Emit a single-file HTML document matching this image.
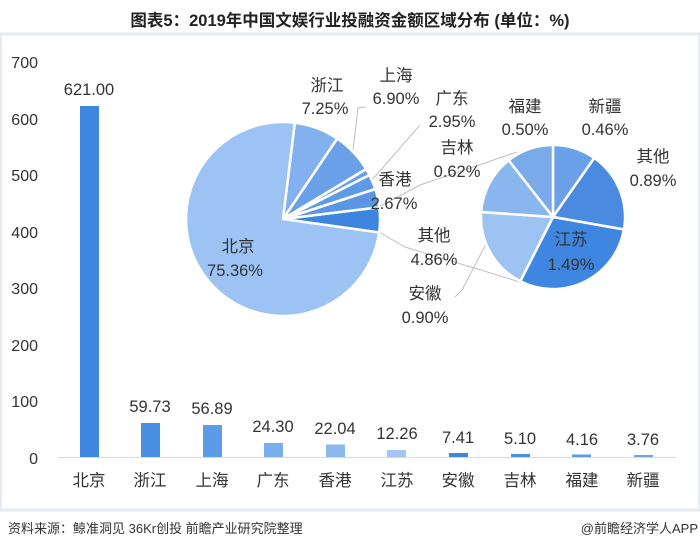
<!DOCTYPE html>
<html><head><meta charset="utf-8"><style>
body{margin:0;background:#fff;}
svg{display:block;font-family:"Liberation Sans","Noto Sans CJK SC",sans-serif;}
</style></head><body>
<svg width="700" height="549" viewBox="0 0 700 549">
<rect x="0.5" y="34" width="699" height="476" fill="#fff" stroke="#e6ebf2" stroke-width="3"/>
<text x="350" y="26" text-anchor="middle" font-size="16.5" font-weight="bold" fill="#222">图表5：2019年中国文娱行业投融资金额区域分布 (单位：%)</text>
<g font-size="16" fill="#333" text-anchor="end">
<text x="38" y="68">700</text><text x="38" y="125">600</text><text x="38" y="181">500</text><text x="38" y="238">400</text><text x="38" y="294">300</text><text x="38" y="351">200</text><text x="38" y="407">100</text><text x="38" y="464">0</text>
</g>
<line x1="58" y1="457.5" x2="676" y2="457.5" stroke="#d9d9d9"/>
<g>
<rect x="80" y="106" width="19" height="351" fill="#3f86e0"/>
<rect x="141" y="423" width="19" height="34" fill="#4a90e2"/>
<rect x="203" y="425" width="19" height="32" fill="#5d9be8"/>
<rect x="264" y="443" width="19" height="14" fill="#78adee"/>
<rect x="326" y="444.5" width="19" height="12.5" fill="#8cb8f0"/>
<rect x="387" y="450" width="19" height="7" fill="#a3c6f4"/>
<rect x="449" y="453" width="19" height="4" fill="#3f86e0"/>
<rect x="511" y="454" width="19" height="3" fill="#4a8fe2"/>
<rect x="572" y="454.5" width="19" height="2.5" fill="#5a9ae6"/>
<rect x="634" y="455" width="19" height="2" fill="#6aa3ea"/>
</g>
<g font-size="16.5" fill="#333" text-anchor="middle">
<text x="89" y="95">621.00</text>
<text x="150" y="412">59.73</text><text x="212" y="414">56.89</text><text x="273" y="432">24.30</text><text x="335" y="434">22.04</text><text x="397" y="439">12.26</text><text x="458" y="443">7.41</text><text x="520" y="444">5.10</text><text x="582" y="445">4.16</text><text x="643" y="445">3.76</text>
</g>
<g font-size="16.5" fill="#333" text-anchor="middle">
<text x="89" y="486">北京</text><text x="150" y="486">浙江</text><text x="212" y="486">上海</text><text x="273" y="486">广东</text><text x="335" y="486">香港</text><text x="397" y="486">江苏</text><text x="458" y="486">安徽</text><text x="520" y="486">吉林</text><text x="582" y="486">福建</text><text x="643" y="486">新疆</text>
</g>
<g stroke="#bfbfbf" fill="none" stroke-width="1">
<polyline points="379,232 405,247 520,282"/>
<polyline points="379,207 420,185 517,152"/>
<polyline points="353,150 358,108 366,107"/>
<polyline points="372,180 420,125"/>
<polyline points="455,297 462,290 486,244"/>
</g>
<g stroke="#fff" stroke-width="2.5" stroke-linejoin="round">
<path d="M283,219 L379.1,232.5 A97,97 0 0 0 379.3,207.2 Z" fill="#3d85de"/>
<path d="M283,219 L379.3,207.2 A97,97 0 0 0 375.3,189 Z" fill="#5a96e4"/>
<path d="M283,219 L375.3,189 A97,97 0 0 0 369.4,175 Z" fill="#5f9ae5"/>
<path d="M283,219 L369.4,175 A97,97 0 0 0 366.1,169 Z" fill="#6aa0e8"/>
<path d="M283,219 L366.1,169 A97,97 0 0 0 337.2,138.6 Z" fill="#6aa0e8"/>
<path d="M283,219 L337.2,138.6 A97,97 0 0 0 294.8,122.7 Z" fill="#83b0ee"/>
<path d="M283,219 L294.8,122.7 A97,97 0 1 0 379.1,232.5 Z" fill="#9cc3f4"/>
<path d="M553,217 L594.3,158 A72,72 0 0 0 553,145 Z" fill="#6aa0e8"/>
<path d="M553,217 L623.9,229.5 A72,72 0 0 0 594.3,158 Z" fill="#4a8ae0"/>
<path d="M553,217 L520.3,281.2 A72,72 0 0 0 623.9,229.5 Z" fill="#3f86e0"/>
<path d="M553,217 L481.2,212 A72,72 0 0 0 520.3,281.2 Z" fill="#9dc3f3"/>
<path d="M553,217 L508.7,160.3 A72,72 0 0 0 481.2,212 Z" fill="#8ab6ef"/>
<path d="M553,217 L553,145 A72,72 0 0 0 508.7,160.3 Z" fill="#7aaaea"/>
</g>
<g font-size="16.5" fill="#333" text-anchor="middle">
<text x="238" y="252">北京</text><text x="235" y="276">75.36%</text>
<text x="327" y="91">浙江</text><text x="325" y="114">7.25%</text>
<text x="396" y="81">上海</text><text x="396" y="104">6.90%</text>
<text x="452" y="104">广东</text><text x="452" y="127">2.95%</text>
<text x="457" y="153">吉林</text><text x="457" y="177">0.62%</text>
<text x="395" y="185">香港</text><text x="394" y="209">2.67%</text>
<text x="434" y="241">其他</text><text x="434" y="265">4.86%</text>
<text x="425" y="299">安徽</text><text x="425" y="323">0.90%</text>
<text x="525" y="112">福建</text><text x="525" y="135">0.50%</text>
<text x="605" y="112">新疆</text><text x="605" y="135">0.46%</text>
<text x="653" y="162">其他</text><text x="653" y="186">0.89%</text>
<text x="571" y="245">江苏</text><text x="571" y="270">1.49%</text>
</g>
<text x="8" y="533" font-size="13" fill="#333">资料来源：鲸准洞见 36Kr创投 前瞻产业研究院整理</text>
<text x="698" y="533" font-size="13" fill="#333" text-anchor="end">@前瞻经济学人APP</text>
</svg>
</body></html>
